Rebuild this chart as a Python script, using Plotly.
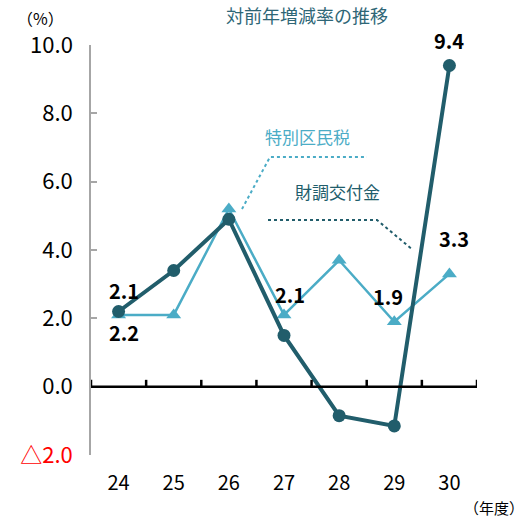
import plotly.graph_objects as go

years = ["24", "25", "26", "27", "28", "29", "30"]
tax = [2.1, 2.1, 5.2, 2.1, 3.7, 1.9, 3.3]          # 特別区民税
grant = [2.2, 3.4, 4.9, 1.5, -0.85, -1.15, 9.4]    # 財調交付金
ytick_vals = [-2, 0, 2, 4, 6, 8, 10]
ytick_text = ['<span style="color:#ff0000">△2.0</span>', "0.0", "2.0", "4.0", "6.0", "8.0", "10.0"]

LIGHT = "#4bacc6"
DARK = "#215d6b"
FONT = "Noto Sans CJK JP"

W, H = 529, 519
L, R, T, B = 91, 477, 45, 455


def px(x):
    return (x - L) / (R - L)


def py(y):
    return (B - y) / (B - T)


fig = go.Figure()
xi = list(range(len(years)))
fig.add_trace(go.Scatter(x=xi, y=tax, mode="lines+markers",
                         line=dict(color=LIGHT, width=2.5),
                         marker=dict(symbol="triangle-up", size=13, color=LIGHT),
                         showlegend=False, cliponaxis=False))
fig.add_trace(go.Scatter(x=xi, y=grant, mode="lines+markers",
                         line=dict(color=DARK, width=4),
                         marker=dict(symbol="circle", size=13, color=DARK),
                         showlegend=False, cliponaxis=False))

shapes = []
shapes.append(dict(type="line", xref="x", yref="y", x0=-0.5, x1=len(years) - 0.5, y0=0, y1=0,
                   line=dict(color="black", width=2.5)))
for i in range(len(years) + 1):
    shapes.append(dict(type="line", xref="x", yref="y", x0=i - 0.5, x1=i - 0.5, y0=0, y1=0.2,
                       line=dict(color="black", width=2.5)))
shapes.append(dict(type="path", xref="paper", yref="paper",
                   path=f"M {px(242)},{py(209)} L {px(270)},{py(157)} L {px(367)},{py(157)}",
                   line=dict(color=LIGHT, width=2, dash="dot")))
shapes.append(dict(type="path", xref="paper", yref="paper",
                   path=f"M {px(268)},{py(220)} L {px(377)},{py(220)} L {px(413)},{py(250)}",
                   line=dict(color=DARK, width=2, dash="dot")))

lab_font = dict(family=FONT, size=20, color="black")
ann = []
def lab(i, v, yshift, xshift=0):
    ann.append(dict(x=i, y=v, xref="x", yref="y", text=f"<b>{v:.1f}</b>", showarrow=False,
                    font=lab_font, yshift=yshift, xshift=xshift))

lab(0, tax[0], 24, 5)
lab(0, grant[0], -21, 5)
lab(3, tax[3], 20, 6)
lab(5, tax[5], 25, -6)
lab(6, tax[6], 35, 5)
lab(6, grant[6], 25, 0)


def note(x, y, text, size, color):
    ann.append(dict(x=px(x), y=py(y), xref="paper", yref="paper", text=text,
                    xanchor="center", yanchor="middle",
                    showarrow=False, font=dict(family=FONT, size=size, color=color)))


note(307, 136, "特別区民税", 17, LIGHT)
note(337, 191, "財調交付金", 17, DARK)
note(307, 15, "対前年増減率の推移", 18, "#2e6676")
note(40, 18, "（%）", 16, "black")
note(494, 507, "（年度）", 15, "black")

fig.update_layout(
    width=W, height=H,
    margin=dict(l=L, r=W - R, t=T, b=H - B),
    paper_bgcolor="white", plot_bgcolor="white",
    shapes=shapes, annotations=ann,
    xaxis=dict(range=[-0.5, len(years) - 0.5], tickvals=xi, ticktext=years,
               showgrid=False, zeroline=False, showline=False, ticks="",
               tickfont=dict(family=FONT, size=20, color="black"), ticklabelstandoff=14),
    yaxis=dict(range=[-2, 10], tickvals=ytick_vals, ticktext=ytick_text,
               showgrid=False, zeroline=False, showline=True, linecolor="#a6a6a6", linewidth=1.5,
               ticks="inside", ticklen=6, tickcolor="#a6a6a6", tickwidth=1.5,
               tickfont=dict(family=FONT, size=22, color="black"), ticklabelstandoff=12),
)
fig.write_html("out.html", config={"displayModeBar": False},
               post_script="document.body.style.margin='0';document.body.style.overflow='hidden';")
